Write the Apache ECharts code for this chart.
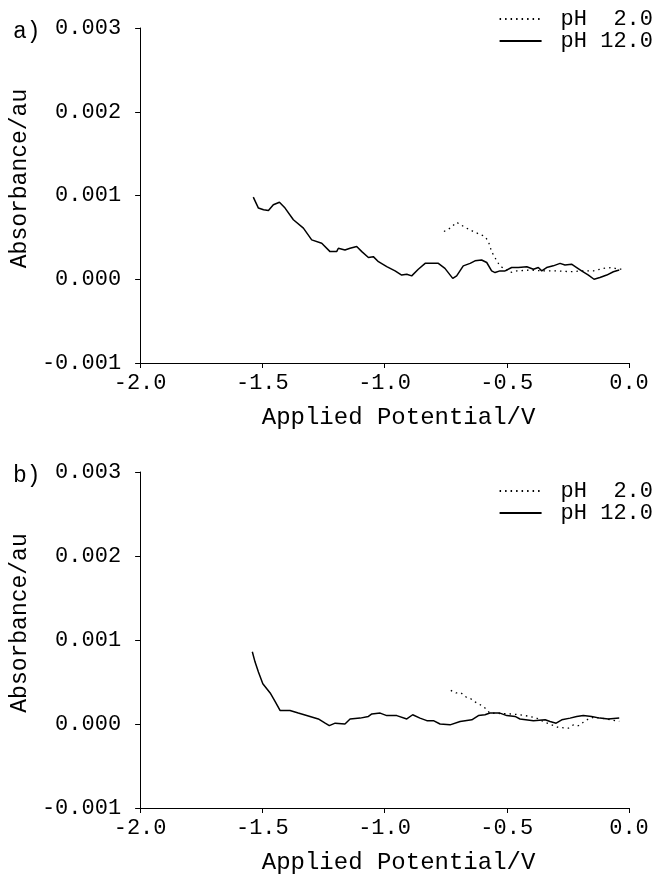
<!DOCTYPE html>
<html>
<head>
<meta charset="utf-8">
<script src="https://cdn.jsdelivr.net/npm/echarts@6/dist/echarts.min.js"></script>
<style>html,body{margin:0;padding:0;background:#fff;}#c{width:658px;height:879px;}</style>
</head>
<body>
<div id="c"></div>
<script>
// Panel a) pH 12.0 (solid) [potential V, absorbance au]
const aPH12 = [
  [-1.537,0.00098],[-1.516,0.00085],[-1.495,0.00083],[-1.475,0.00082],[-1.455,0.00089],[-1.430,0.00092],
  [-1.407,0.00085],[-1.373,0.00071],[-1.332,0.00061],[-1.298,0.00047],[-1.257,0.00043],[-1.223,0.00033],
  [-1.196,0.00033],[-1.189,0.00037],[-1.162,0.00035],[-1.141,0.00037],[-1.114,0.00039],[-1.093,0.00033],
  [-1.066,0.00026],[-1.046,0.00027],[-1.025,0.00021],[-0.991,0.00015],[-0.957,0.00010],[-0.930,0.00005],
  [-0.909,0.00006],[-0.889,0.00004],[-0.862,0.00012],[-0.834,0.00019],[-0.814,0.00019],[-0.780,0.00019],
  [-0.753,0.00013],[-0.721,0.00001],[-0.705,0.00004],[-0.678,0.00016],[-0.650,0.00019],[-0.630,0.00022],
  [-0.603,0.00023],[-0.582,0.00020],[-0.562,0.00010],[-0.548,0.00008],[-0.528,0.00010],[-0.507,0.00010],
  [-0.480,0.00014],[-0.453,0.00014],[-0.418,0.00015],[-0.391,0.00012],[-0.371,0.00014],[-0.357,0.00010],
  [-0.337,0.00014],[-0.310,0.00016],[-0.282,0.00019],[-0.262,0.00017],[-0.235,0.00018],[-0.214,0.00014],
  [-0.194,0.00010],[-0.166,0.00005],[-0.143,0.00000],[-0.119,0.00002],[-0.091,0.00005],[-0.064,0.00009],
  [-0.040,0.00011]
];
// Panel a) pH 2.0 (dotted)
const aPH2 = [
  [-0.757,0.00057],[-0.732,0.00061],[-0.705,0.00068],[-0.671,0.00062],[-0.637,0.00057],[-0.589,0.00051],
  [-0.575,0.00045],[-0.562,0.00033],[-0.541,0.00022],[-0.528,0.00016],[-0.487,0.00008],[-0.459,0.00010],
  [-0.405,0.00011],[-0.351,0.00010],[-0.296,0.00010],[-0.241,0.00009],[-0.187,0.00010],[-0.146,0.00010],
  [-0.105,0.00013],[-0.071,0.00014],[-0.044,0.00012],[-0.023,0.00012]
];
// Panel b) pH 12.0 (solid)
const bPH12 = [
  [-1.541,0.00086],[-1.530,0.00074],[-1.516,0.00062],[-1.498,0.00048],[-1.468,0.00037],[-1.448,0.00027],
  [-1.427,0.00016],[-1.387,0.00016],[-1.353,0.00013],[-1.305,0.00009],[-1.271,0.00006],[-1.243,0.00001],
  [-1.226,-0.00002],[-1.202,0.00001],[-1.162,0.00000],[-1.141,0.00006],[-1.100,0.00007],[-1.066,0.00009],
  [-1.052,0.00012],[-1.018,0.00013],[-0.991,0.00010],[-0.950,0.00010],[-0.909,0.00006],[-0.885,0.00011],
  [-0.855,0.00007],[-0.827,0.00004],[-0.800,0.00004],[-0.773,0.00000],[-0.732,-0.00001],[-0.691,0.00003],
  [-0.643,0.00005],[-0.616,0.00010],[-0.589,0.00011],[-0.569,0.00013],[-0.528,0.00013],[-0.500,0.00010],
  [-0.466,0.00009],[-0.446,0.00006],[-0.391,0.00004],[-0.343,0.00005],[-0.323,0.00003],[-0.298,0.00001],
  [-0.275,0.00005],[-0.241,0.00007],[-0.214,0.00009],[-0.187,0.00010],[-0.153,0.00009],[-0.119,0.00007],
  [-0.085,0.00006],[-0.040,0.00007]
];
// Panel b) pH 2.0 (dotted)
const bPH2 = [
  [-0.729,0.00040],[-0.708,0.00037],[-0.687,0.00037],[-0.666,0.00032],[-0.647,0.00030],[-0.628,0.00026],
  [-0.609,0.00023],[-0.589,0.00019],[-0.569,0.00013],[-0.487,0.00012],[-0.446,0.00011],[-0.405,0.00009],
  [-0.378,0.00007],[-0.343,0.00002],[-0.289,-0.00004],[-0.248,-0.00005],[-0.227,-0.00001],[-0.207,-0.00002],
  [-0.187,0.00002],[-0.166,0.00006],[-0.146,0.00008],[-0.091,0.00006],[-0.040,0.00003]
];
const seriesNames = ['pH  2.0', 'pH 12.0'];
const panelLabels = ['a)', 'b)'];
const xTitle = 'Applied Potential/V';
const yTitle = 'Absorbance/au';

const FONT = 'Liberation Mono';
const chart = echarts.init(document.getElementById('c'), null, {renderer: 'canvas'});

function xAx(gi) {
  return {
    type: 'value', gridIndex: gi, min: -2.0, max: 0.0, interval: 0.5,
    name: xTitle, nameLocation: 'middle', nameGap: 43,
    nameTextStyle: {fontFamily: FONT, fontSize: 24, color: '#000', padding: [0, 0, 0, 28]},
    axisLine: {onZero: false, lineStyle: {color: '#000', width: 1}},
    axisTick: {inside: false, length: 5, lineStyle: {color: '#000'}},
    axisLabel: {fontFamily: FONT, fontSize: 22, color: '#000', margin: 9,
      formatter: v => v.toFixed(1)},
    splitLine: {show: false}
  };
}
function yAx(gi) {
  return {
    type: 'value', gridIndex: gi, min: -0.001, max: 0.003, interval: 0.001,
    name: yTitle, nameLocation: 'middle', nameGap: 106,
    nameTextStyle: {fontFamily: FONT, fontSize: 23, color: '#000', padding: [0, 0, 0, 34]},
    axisLine: {show: true, onZero: false, lineStyle: {color: '#000', width: 1}},
    axisTick: {show: true, inside: false, length: 5, lineStyle: {color: '#000'}},
    axisLabel: {fontFamily: FONT, fontSize: 22, color: '#000', margin: 19,
      formatter: v => v.toFixed(3)},
    splitLine: {show: false}
  };
}
const dotted = {color: '#000', width: 1.3, type: [1.5, 4]};
const solid = {color: '#000', width: 1.5, type: 'solid'};
function ser(name, data, gi, style) {
  return {name: name, type: 'line', xAxisIndex: gi, yAxisIndex: gi, data: data,
    showSymbol: false, symbol: 'none', lineStyle: style, itemStyle: {color: '#000'},
    animation: false, silent: true};
}
function legend(top) {
  return {
    orient: 'vertical', right: 0, top: top, itemGap: 0, itemWidth: 42, itemHeight: 20,
    itemStyle: {opacity: 0},
    textStyle: {fontFamily: FONT, fontSize: 22, color: '#000', padding: [0, 0, 0, 14]},
    data: seriesNames, selectedMode: false
  };
}

chart.setOption({
  backgroundColor: '#fff',
  animation: false,
  title: [
    {text: panelLabels[0], left: 8, top: 15, textStyle: {fontFamily: FONT, fontSize: 23, fontWeight: 'normal', color: '#000'}},
    {text: panelLabels[1], left: 8, top: 459, textStyle: {fontFamily: FONT, fontSize: 23, fontWeight: 'normal', color: '#000'}}
  ],
  grid: [
    {left: 140, top: 28, width: 489, height: 335},
    {left: 140, top: 472, width: 489, height: 336}
  ],
  legend: [legend(3), legend(475)],
  xAxis: [xAx(0), xAx(1)],
  yAxis: [yAx(0), yAx(1)],
  series: [
    ser(seriesNames[0], aPH2, 0, dotted),
    ser(seriesNames[1], aPH12, 0, solid),
    ser(seriesNames[0], bPH2, 1, dotted),
    ser(seriesNames[1], bPH12, 1, solid)
  ]
});
</script>
</body>
</html>
